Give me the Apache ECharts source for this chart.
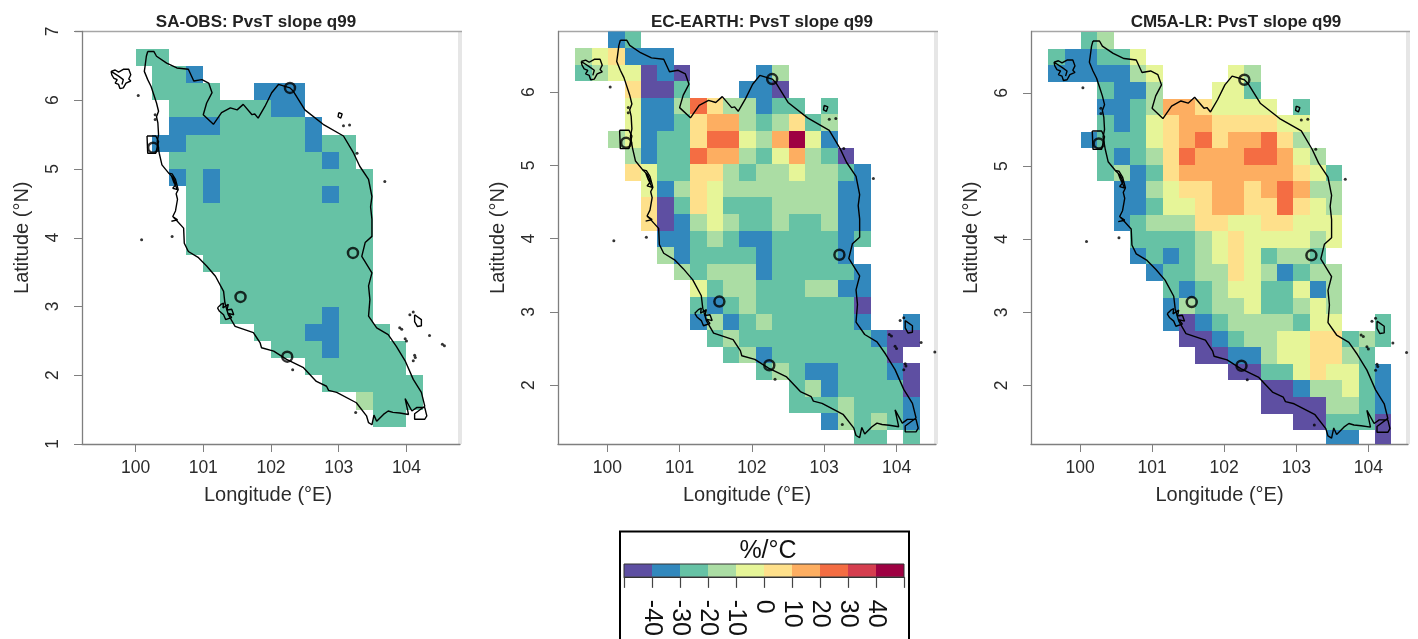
<!DOCTYPE html>
<html><head><meta charset="utf-8">
<style>html,body{margin:0;padding:0;background:#fff;overflow:hidden}#c{width:1418px;height:639px}</style>
<script src="https://cdn.jsdelivr.net/npm/echarts@6/dist/echarts.min.js"></script>
</head><body><div id="c"></div>
<script>
var panelTitles = ['SA-OBS: PvsT slope q99','EC-EARTH: PvsT slope q99','CM5A-LR: PvsT slope q99'];
var palette = ['#5E4FA2','#3288BD','#66C2A5','#ABDDA4','#E6F598','#FEE08B','#FDAE61','#F46D43','#D53E4F','#9E0142'];
var binEdges = [-50,-40,-30,-20,-10,0,10,20,30,40,50];
var legendTicks = [-40,-30,-20,-10,0,10,20,30,40];
var lonTicks = [100,101,102,103,104];
var latTicks = [2,3,4,5,6];
var latTicksObs = [1,2,3,4,5,6,7];
// bin code -> slope value (bin centre, %/°C)
var binValue = {P:-45,B:-35,T:-25,G:-15,Y:-5,L:5,O:15,D:25,R:35,M:45};

var obsRows = [
"TT",
".TTB",
".TTTT..BBB",
"..TTTTTTBB",
"..BBBTTTTTB",
".BBTTTTTTTBTT",
"..TTTTTTTTTBT",
"..BTBTTTTTTTTT",
"...TBTTTTTTBTT",
"...TTTTTTTTTTT",
"...TTTTTTTTTTT",
"...TTTTTTTTTTT",
"....TTTTTTTTTT",
".....TTTTTTTTT",
".....TTTTTTTTT",
".....TTTTTTBTT",
".......TTTBBTTT",
"........TTTBTTTT",
"..........TTTTTT",
"...........TTTTTT",
".............GTTT",
"..............TT"];

var ecRows = [
"..BT",
"GYLBBB",
"TGYYPBP....BG",
"...LPPT...BBP",
"...YBBGDLGGBTT.T",
"...YBBTLOOGTGLTG",
"..GYBTTLDDYGOMYB",
"...GBTTDOOGTYOGTP",
"...LYTTLLGTGGYGGTB",
"....YBGLYGGGGGGGBB",
"....LPTLYTTTGGGGBB",
"....LPBGYGTTGTTGBB",
".....BBTGTBBTTTTBT",
".....GBTTTTBTTTTB.",
"......GTGGGBTTTTTB",
".......YTGGTTTGGBB",
".......TBTGTTTTTTP",
".......BGBTGTTTTTB..B",
"........TGTTTTTTTTBPP",
".........TGBTTTTTTTP",
"...........TGTBBTTTBP",
".............TGBTTTTP",
".............TTTGTTTB",
"...............BGTGTB",
".................TT.T"];

var cmRows = [
"..TG",
"TBBTTY",
"BBBBBGY....YG",
"...TBBG...YYT",
"...BBTGOOLYYYY.T",
"...TBTYLOOLLLLYY",
"..BTTTYLODLOODLG",
"...TBTGLDOOODDOYG",
"...TGBTLOOOOOOOLYT",
"....BBGYLLOOLODOGG",
"....BBTYYLOOLLDLYG",
"....BTGGGLLYYLLYYY",
".....TTTTGYLYYYYGY",
".....BTBTGYLYTGGT",
"......BTTGGLYGBTGG",
".......TBTGYYTTYBG",
".......BGTGGYTTGYG",
".......BPBTGGGGTYY..T",
"........PPBTGGYYLLTGT",
".........PPBBGYYLLGT",
"...........PPTTYLYYTB",
".............PPBGGYTB",
".............PPPPGGTB",
"...............PPTTTP",
".................BB.P"];

// grid origin of each product: lon of first column, lat of first row, cell size in degrees
var obsGrid = [100.0, 6.75, 0.25];
var modelGrid = [99.56, 6.83, 0.2267];

var coast = [[100.18,6.71],[100.16,6.64],[100.14,6.49],[100.13,6.42],[100.18,6.30],[100.23,6.20],[100.27,6.08],[100.31,5.96],[100.34,5.84],[100.31,5.76],[100.33,5.67],[100.34,5.50],[100.32,5.40],[100.35,5.23],[100.39,5.06],[100.49,4.94],[100.54,4.93],[100.59,4.85],[100.63,4.70],[100.60,4.64],[100.62,4.56],[100.59,4.39],[100.55,4.31],[100.59,4.27],[100.71,4.14],[100.72,3.92],[100.78,3.80],[100.93,3.71],[101.05,3.59],[101.18,3.44],[101.30,3.22],[101.32,3.05],[101.37,2.88],[101.47,2.71],[101.74,2.62],[101.78,2.56],[101.84,2.47],[101.86,2.40],[102.04,2.35],[102.23,2.23],[102.48,2.11],[102.67,1.91],[102.82,1.84],[102.85,1.78],[102.97,1.75],[103.26,1.60],[103.41,1.41],[103.44,1.31],[103.49,1.28],[103.52,1.42],[103.56,1.33],[103.66,1.43],[103.73,1.48],[103.80,1.46],[103.90,1.45],[104.03,1.43],[103.98,1.66],[104.08,1.48],[104.15,1.53],[104.27,1.53],[104.30,1.41],[104.27,1.36],[104.12,1.36],[104.12,1.44],[104.27,1.55],[104.22,1.75],[104.10,1.94],[103.98,2.21],[103.85,2.42],[103.73,2.59],[103.56,2.69],[103.44,2.86],[103.46,3.10],[103.44,3.30],[103.49,3.49],[103.34,3.73],[103.39,3.93],[103.49,4.02],[103.49,4.27],[103.47,4.45],[103.49,4.60],[103.44,4.85],[103.31,5.04],[103.22,5.23],[103.07,5.48],[102.77,5.65],[102.50,5.86],[102.33,6.13],[102.28,6.18],[102.11,6.23],[102.01,6.11],[101.91,5.91],[101.81,5.74],[101.76,5.80],[101.72,5.79],[101.59,5.94],[101.50,5.86],[101.40,5.89],[101.27,5.82],[101.15,5.65],[101.00,5.79],[101.05,5.96],[101.13,6.11],[101.08,6.25],[100.98,6.30],[100.86,6.28],[100.78,6.45],[100.61,6.47],[100.46,6.54],[100.31,6.64],[100.27,6.71],[100.18,6.71]];
var langkawi = [[99.64,6.42],[99.70,6.44],[99.75,6.41],[99.82,6.45],[99.90,6.45],[99.93,6.37],[99.90,6.31],[99.93,6.28],[99.86,6.25],[99.82,6.18],[99.77,6.17],[99.75,6.23],[99.70,6.25],[99.73,6.30],[99.68,6.32],[99.65,6.37],[99.64,6.42],[99.75,6.35],[99.82,6.30],[99.80,6.23]];
var penang = [[100.17,5.48],[100.30,5.48],[100.34,5.40],[100.30,5.23],[100.18,5.23],[100.17,5.48]];
var klang = [[101.21,2.98],[101.26,3.03],[101.30,3.05],[101.29,2.98],[101.37,3.03],[101.35,2.95],[101.42,2.96],[101.45,2.88],[101.37,2.90],[101.42,2.84],[101.33,2.81],[101.30,2.88],[101.24,2.93],[101.21,2.98]];
var perak = [[100.49,4.94],[100.56,4.87],[100.60,4.78],[100.55,4.72],[100.62,4.70],[100.56,4.82],[100.53,4.90]];
var pangkor = [[100.53,4.24],[100.62,4.26],[100.56,4.30]];
var tioman = [[104.12,2.88],[104.22,2.81],[104.22,2.72],[104.16,2.71],[104.12,2.78],[104.12,2.88]];
var redang = [[103.00,5.82],[103.05,5.80],[103.03,5.74],[102.99,5.76],[103.00,5.82]];
var islets = [[103.90,2.69],[103.93,2.67],[103.98,2.53],[104.00,2.50],[104.12,2.29],[104.10,2.21],[104.13,2.26],[104.34,2.58],[104.53,2.45],[104.56,2.43],[103.25,1.46],[102.32,2.08],[103.07,5.63],[103.16,5.64],[103.68,4.82],[103.27,5.23],[100.29,5.79],[100.29,5.72],[100.04,6.07],[100.09,3.97],[100.54,4.02],[104.10,2.92],[104.05,2.88]];
var stations = [[102.28,6.18],[100.26,5.31],[103.21,3.78],[101.55,3.14],[102.24,2.27]];

var font = 'Liberation Sans, Arial, sans-serif';
var shapes = [coast, langkawi, penang, klang, perak, pangkor, tioman, redang];
var layouts = [
  {left:82, right:1418-460, lon:[99.21,104.79], lat:[1,7], ticks:latTicksObs, rows:obsRows, g:obsGrid},
  {left:558,right:1418-936, lon:[99.318,104.546], lat:[1.194,6.83], ticks:latTicks, rows:ecRows, g:modelGrid},
  {left:1031,right:1418-1408, lon:[99.32,104.55], lat:[1.2,6.84], ticks:latTicks, rows:cmRows, g:modelGrid}
];
var colorOf = function(v){ return palette[Math.min(9,Math.floor((v+50)/10))]; };
function renderCell(params, api){
  var s = api.value(3);
  var a = api.coord([api.value(0), api.value(1)]);
  var b = api.coord([api.value(0)+s, api.value(1)-s]);
  var x0=Math.round(a[0]), y0=Math.round(a[1]), x1=Math.round(b[0]), y1=Math.round(b[1]);
  return {type:'rect', shape:{x:x0,y:y0,width:x1-x0,height:y1-y0},
    style:{fill:colorOf(api.value(2))}};
}
var grid=[], xAxis=[], yAxis=[], series=[], title=[], graphic=[];
var axisGray='#7f7f7f', textCol='#2b2b2b';
layouts.forEach(function(p,k){
  var cells=[];
  p.rows.forEach(function(row,r){ row.split('').forEach(function(ch,c){
    if(ch!=='.') cells.push([p.g[0]+c*p.g[2], p.g[1]-r*p.g[2], binValue[ch], p.g[2]]);
  });});
  grid.push({left:p.left,right:p.right,top:31.5,bottom:639-444,show:false});
  xAxis.push({type:'value',gridIndex:k,min:p.lon[0],max:p.lon[1],name:'Longitude (°E)',nameLocation:'middle',nameGap:41,
    nameTextStyle:{fontFamily:font,fontSize:20,color:textCol,padding:k===0?[0,6,0,0]:0},
    axisLine:{show:true,onZero:false,lineStyle:{color:axisGray,width:1.3}},
    axisTick:{show:true,length:8,customValues:lonTicks,lineStyle:{color:axisGray}},
    axisLabel:{customValues:lonTicks,margin:15,fontFamily:font,fontSize:17.5,color:textCol,formatter:'{value}',hideOverlap:false,showMinLabel:true,showMaxLabel:true},
    splitLine:{show:false}});
  yAxis.push({type:'value',gridIndex:k,min:p.lat[0],max:p.lat[1],name:'Latitude (°N)',nameLocation:'middle',nameRotate:90,nameGap:50,
    nameTextStyle:{fontFamily:font,fontSize:20,color:textCol},
    axisLine:{show:true,onZero:false,lineStyle:{color:axisGray,width:1.3}},
    axisTick:{show:true,length:8,customValues:p.ticks,lineStyle:{color:axisGray}},
    axisLabel:{customValues:p.ticks,rotate:90,margin:20,fontFamily:font,fontSize:17.5,color:textCol,hideOverlap:false,showMinLabel:true,showMaxLabel:true},
    splitLine:{show:false}});
  series.push({type:'custom',xAxisIndex:k,yAxisIndex:k,coordinateSystem:'cartesian2d',clip:true,silent:true,
    encode:{x:0,y:1},data:cells,renderItem:renderCell,z:2,animation:false});
  shapes.forEach(function(sh){
    series.push({type:'line',xAxisIndex:k,yAxisIndex:k,data:sh,symbol:'none',silent:true,animation:false,clip:true,z:3,
      lineStyle:{color:'#000',width:1.4},smooth:false});
  });
  series.push({type:'scatter',xAxisIndex:k,yAxisIndex:k,data:islets,symbolSize:3,silent:true,animation:false,z:3,itemStyle:{color:'#000'}});
  series.push({type:'scatter',xAxisIndex:k,yAxisIndex:k,data:stations,symbol:'circle',symbolSize:10,silent:true,animation:false,z:4,
    itemStyle:{color:'rgba(0,0,0,0)',borderColor:'#000',borderWidth:2.5}});
  var r=1418-p.right;
  title.push({text:panelTitles[k],left:[256,762,1236][k],top:14,padding:0,textAlign:'center',textStyle:{fontFamily:font,fontSize:17,fontWeight:'bold',color:'#222'}});
  graphic.push({type:'rect',shape:{x:r-2,y:31,width:4,height:413},style:{fill:'#e6e6e6'},silent:true});
  graphic.push({type:'line',shape:{x1:p.left-(k===0?7:0),y1:31.5,x2:r+2,y2:31.5},style:{stroke:'#a6a6a6',lineWidth:1.3},silent:true});
});
// colour bar
var legendCells = palette.map(function(c,i){ return [binEdges[i],binEdges[i+1],(binEdges[i]+binEdges[i+1])/2]; });
grid.push({left:624,width:280,top:564,height:13,show:false});
xAxis.push({type:'value',gridIndex:3,min:-50,max:50,interval:10,
  axisLine:{show:true,onZero:false,lineStyle:{color:'#333',width:1}},
  axisTick:{show:true,length:11,lineStyle:{color:'#444',width:1.2}},
  axisLabel:{rotate:-90,margin:23,fontFamily:font,fontSize:25,color:'#111',customValues:legendTicks,hideOverlap:false},
  splitLine:{show:false}});
yAxis.push({type:'value',gridIndex:3,min:0,max:1,show:false});
series.push({type:'custom',xAxisIndex:3,yAxisIndex:3,coordinateSystem:'cartesian2d',silent:true,animation:false,
  encode:{x:[0,1]},data:legendCells,z:2,renderItem:function(params,api){
    var a=api.coord([api.value(0),1]), b=api.coord([api.value(1),0]);
    return {type:'rect',shape:{x:a[0],y:a[1],width:b[0]-a[0],height:b[1]-a[1]},style:{fill:colorOf(api.value(2))}};
  }});
title.push({text:'%/°C',left:768,top:539,padding:0,textAlign:'center',textStyle:{fontFamily:font,fontSize:25,fontWeight:'normal',color:'#111'}});
graphic.push({type:'rect',shape:{x:620,y:531.5,width:289,height:120},style:{fill:'none',stroke:'#000',lineWidth:2},silent:true,z:1});
graphic.push({type:'rect',shape:{x:624,y:564,width:280,height:13},style:{fill:'none',stroke:'#333',lineWidth:1},silent:true,z:50});
var chart = echarts.init(document.getElementById('c'),null,{renderer:'canvas',width:1418,height:639});
chart.setOption({animation:false,backgroundColor:'#fff',title:title,grid:grid,xAxis:xAxis,yAxis:yAxis,series:series,graphic:graphic,tooltip:{show:false}});
</script></body></html>
